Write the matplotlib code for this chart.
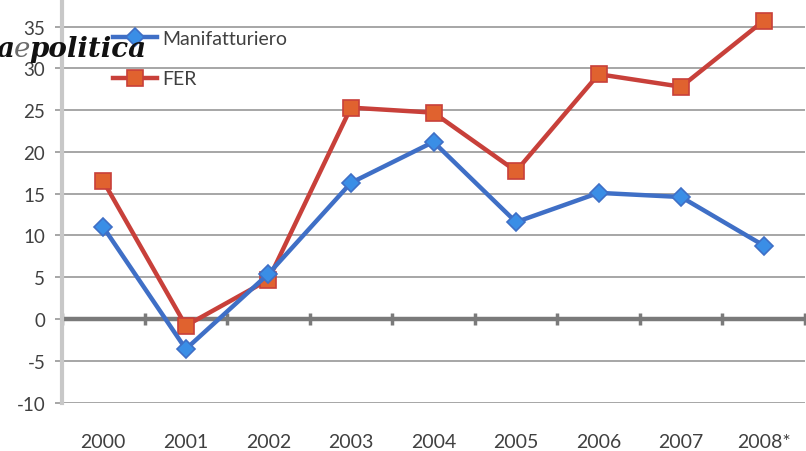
import numpy as np
import matplotlib
matplotlib.use("Agg")
import matplotlib.pyplot as plt

years = ["2000", "2001", "2002", "2003", "2004", "2005", "2006", "2007", "2008*"]
manifatturiero = [11.0, -3.6, 5.4, 16.3, 21.2, 11.6, 15.1, 14.6, 8.8]
fer = [16.5, -0.8, 4.7, 25.3, 24.7, 17.7, 29.3, 27.8, 35.7]
y_ticks = [-10, -5, 0, 5, 10, 15, 20, 25, 30, 35]

plt.rcParams["font.family"] = ["Lato", "DejaVu Sans"]
plt.rcParams["axes.unicode_minus"] = False

fig = plt.figure(figsize=(8.06, 4.52), dpi=100)
ax = fig.add_axes([62 / 806, (452 - 403.6) / 452, 743 / 806, 403.6 / 452])

x = np.arange(len(years))
ax.set_xlim(-0.5, len(years) - 0.5)
ax.set_ylim(-10, 38.3)

# horizontal gridlines
ax.set_yticks(y_ticks)
ax.yaxis.grid(True, color="#a6a6a6", linewidth=1.4)
ax.set_axisbelow(True)

# zero line with category separators
ax.axhline(0, color="#7a7a7a", linewidth=3.2, zorder=2)
ax.plot(np.arange(len(years) + 1) - 0.5, np.zeros(len(years) + 1), ls="none",
        marker="|", markersize=8, markeredgewidth=2.5, color="#7a7a7a", zorder=2)

ax.plot(x, manifatturiero, color="#3f6fc6", linewidth=3.2, marker="D",
        markersize=9, markerfacecolor="#3a8ee6", markeredgecolor="#3f6fc6",
        markeredgewidth=1.2, label="Manifatturiero", zorder=4)
ax.plot(x, fer, color="#c8403a", linewidth=3.2, marker="s",
        markersize=12, markerfacecolor="#e0622f", markeredgecolor="#c8403a",
        markeredgewidth=1.2, label="FER", zorder=3)

ax.set_xticks(x)
ax.set_xticklabels(years)
ax.tick_params(axis="x", length=0, pad=22, labelsize=14, labelcolor="#404040")
ax.tick_params(axis="y", length=5, width=1.4, color="#a6a6a6", pad=7,
               labelsize=13.5, labelcolor="#404040")

for side in ("top", "right", "bottom"):
    ax.spines[side].set_visible(False)
ax.spines["left"].set_color("#c8c8c8")
ax.spines["left"].set_linewidth(3)

leg = ax.legend(loc="upper left", bbox_to_anchor=(113 / 806, 1 - 31 / 452),
                bbox_transform=fig.transFigure, frameon=False, fontsize=14,
                handlelength=2.25, handletextpad=0.3, labelspacing=1.2,
                borderaxespad=0, borderpad=0)
for t in leg.get_texts():
    t.set_color("#404040")

# masthead overlay
fig.text(-3 / 806, 1 - 57 / 452, "a", family="DejaVu Serif", weight="bold",
         style="italic", fontsize=20, color="#111111", zorder=10)
fig.text(14 / 806, 1 - 57 / 452, "e", family="DejaVu Serif", weight="light",
         style="italic", fontsize=20, color="#6a6a6a", zorder=10)
fig.text(29 / 806, 1 - 57 / 452, "politica", family="DejaVu Serif", weight="bold",
         style="italic", fontsize=20, color="#111111", zorder=10)

fig.savefig("out.png", dpi=100)
